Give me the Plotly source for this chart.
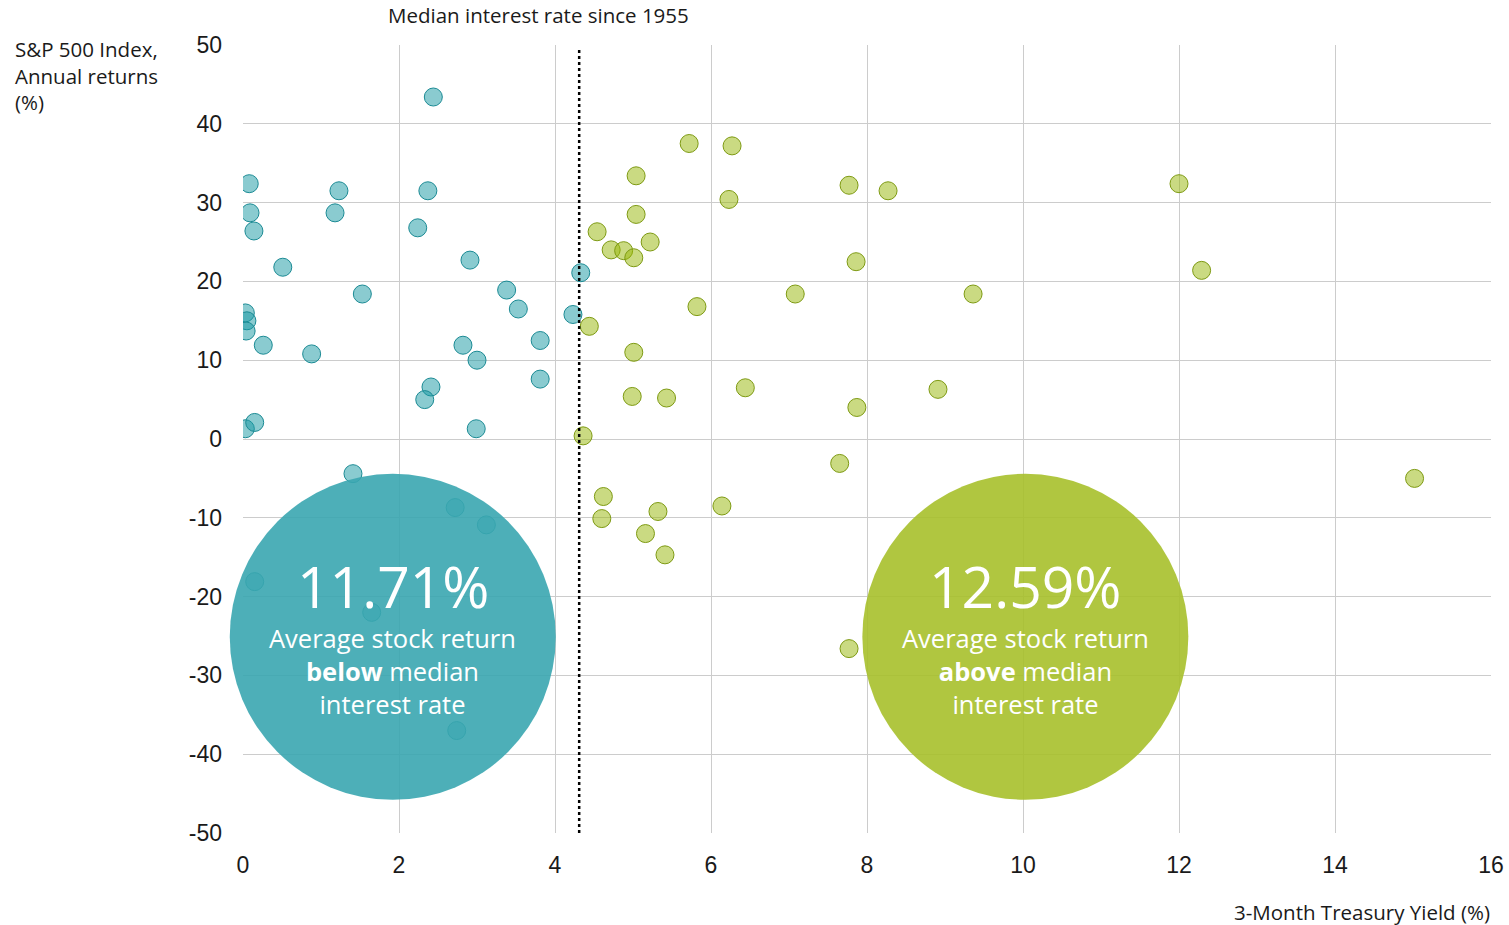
import plotly.graph_objects as go

# ---- data ----
below_x = [2.44, 0.08, 0.09, 0.14, 0.51, 1.23, 1.18, 2.37, 2.24, 2.91, 1.53, 3.38, 3.53,
           0.03, 0.05, 0.04, 0.26, 0.88, 2.82, 3.00, 3.81, 3.81, 2.41, 2.33, 2.99, 0.03,
           0.15, 4.33, 4.23, 1.41, 2.72, 3.12, 0.15, 1.65, 2.74]
below_y = [43.4, 32.4, 28.7, 26.4, 21.8, 31.5, 28.7, 31.5, 26.8, 22.7, 18.4, 18.9, 16.5,
           16.0, 15.0, 13.7, 11.9, 10.8, 11.9, 10.0, 12.5, 7.6, 6.6, 5.0, 1.3, 1.3,
           2.1, 21.1, 15.8, -4.4, -8.7, -10.9, -18.1, -22.0, -37.0]

above_x = [5.72, 6.27, 5.04, 7.77, 8.27, 6.23, 5.04, 4.54, 5.22, 4.72, 4.88, 5.01, 7.86,
           7.08, 9.36, 5.82, 4.44, 5.01, 6.44, 8.91, 4.99, 5.43, 7.87, 4.36, 7.65, 4.62,
           6.14, 5.32, 4.60, 5.16, 5.41, 7.77, 12.00, 12.29, 15.02]
above_y = [37.5, 37.2, 33.4, 32.2, 31.5, 30.4, 28.5, 26.3, 25.0, 24.0, 23.9, 23.0, 22.5,
           18.4, 18.4, 16.8, 14.3, 11.0, 6.5, 6.3, 5.4, 5.2, 4.0, 0.4, -3.1, -7.3,
           -8.5, -9.2, -10.1, -12.0, -14.7, -26.6, 32.4, 21.4, -5.0]

median_rate = 4.31
avg_below = 11.71
avg_above = 12.59
x_ticks = [0, 2, 4, 6, 8, 10, 12, 14, 16]
y_ticks = [-50, -40, -30, -20, -10, 0, 10, 20, 30, 40, 50]
x_range = [0, 16]
y_range = [-50, 50]

# bubble callout centres (data units)
below_centre = (1.92, -25.1)
above_centre = (10.03, -25.1)

FONT = "Open Sans"
TICK_FONT = "Liberation Sans"
TEXT = "#1a1a1a"
TEAL_FILL = "rgba(21,151,161,0.5)"
TEAL_LINE = "#1A8A94"
GREEN_FILL = "rgba(149,181,5,0.5)"
GREEN_LINE = "#7E9A12"
TEAL_BIG = "rgb(58,166,176)"
GREEN_BIG = "rgb(167,192,43)"


def to_paper_x(v):
    return (v - x_range[0]) / (x_range[1] - x_range[0])


def to_paper_y(v):
    return (v - y_range[0]) / (y_range[1] - y_range[0])


fig = go.Figure()
fig.add_trace(go.Scatter(
    x=below_x, y=below_y, mode="markers",
    marker=dict(size=18, color=TEAL_FILL, line=dict(color=TEAL_LINE, width=1)),
    showlegend=False, hoverinfo="x+y"))
fig.add_trace(go.Scatter(
    x=above_x, y=above_y, mode="markers",
    marker=dict(size=18, color=GREEN_FILL, line=dict(color=GREEN_LINE, width=1)),
    showlegend=False, hoverinfo="x+y"))

# median dotted line
fig.add_shape(type="line", xref="x", yref="paper", x0=median_rate, x1=median_rate,
              y0=0, y1=0.996, line=dict(color="black", width=2.5, dash="dot"), layer="above")

R = 163
for (cx, cy), col in [(below_centre, TEAL_BIG), (above_centre, GREEN_BIG)]:
    fig.add_shape(type="circle", xref="paper", yref="paper",
                  xsizemode="pixel", ysizemode="pixel",
                  xanchor=to_paper_x(cx), yanchor=to_paper_y(cy),
                  x0=-R, x1=R, y0=-R, y1=R,
                  fillcolor=col, opacity=0.9, line=dict(width=0), layer="above")

for (cx, cy), val, word in [(below_centre, avg_below, "below"), (above_centre, avg_above, "above")]:
    fig.add_annotation(x=cx, y=cy, xref="x", yref="y", text=f"{val:.2f}%",
                       showarrow=False, yshift=51, height=58, valign="middle",
                       font=dict(family=FONT, size=57, color="white"))
    fig.add_annotation(x=cx, y=cy, xref="x", yref="y",
                       text=f"Average stock return<br><b>{word}</b> median<br>interest rate",
                       showarrow=False, yshift=-34, align="center",
                       font=dict(family=FONT, size=25.5, color="white"))

# titles
fig.add_annotation(xref="paper", yref="paper", x=0, y=1, xanchor="left", yanchor="top",
                   xshift=-230, yshift=12, align="left", showarrow=False,
                   text="S&P 500 Index,<br>Annual returns<br>(%)",
                   font=dict(family=FONT, size=20.5, color=TEXT))
fig.add_annotation(xref="paper", yref="paper", x=1, y=0, xanchor="right", yanchor="top",
                   xshift=1, yshift=-63, showarrow=False,
                   text="3-Month Treasury Yield (%)",
                   font=dict(family=FONT, size=20.5, color=TEXT))
fig.add_annotation(xref="x", yref="paper", x=median_rate, y=1, xanchor="center", yanchor="bottom",
                   xshift=-41, yshift=14, showarrow=False,
                   text="Median interest rate since 1955",
                   font=dict(family=FONT, size=20.5, color=TEXT))

fig.update_layout(
    width=1509, height=925,
    margin=dict(l=243, r=18, t=45, b=92),
    paper_bgcolor="white", plot_bgcolor="white",
    font=dict(family=FONT, size=22, color=TEXT),
    xaxis=dict(range=x_range, tickvals=x_ticks, ticktext=[str(v) for v in x_ticks],
               showgrid=True, gridcolor="#cccccc", automargin=False,
               gridwidth=1, zeroline=False, showline=False, ticks="",
               ticklabelstandoff=16,
               tickfont=dict(family=TICK_FONT, size=23, color=TEXT)),
    yaxis=dict(range=y_range, tickvals=y_ticks, ticktext=[str(v) for v in y_ticks],
               showgrid=True, gridcolor="#cccccc", automargin=False,
               gridwidth=1, zeroline=True, zerolinecolor="#cccccc", zerolinewidth=1,
               showline=False, ticks="", ticklabelstandoff=20,
               tickfont=dict(family=TICK_FONT, size=23, color=TEXT)),
)

fig.write_html("out.html")
